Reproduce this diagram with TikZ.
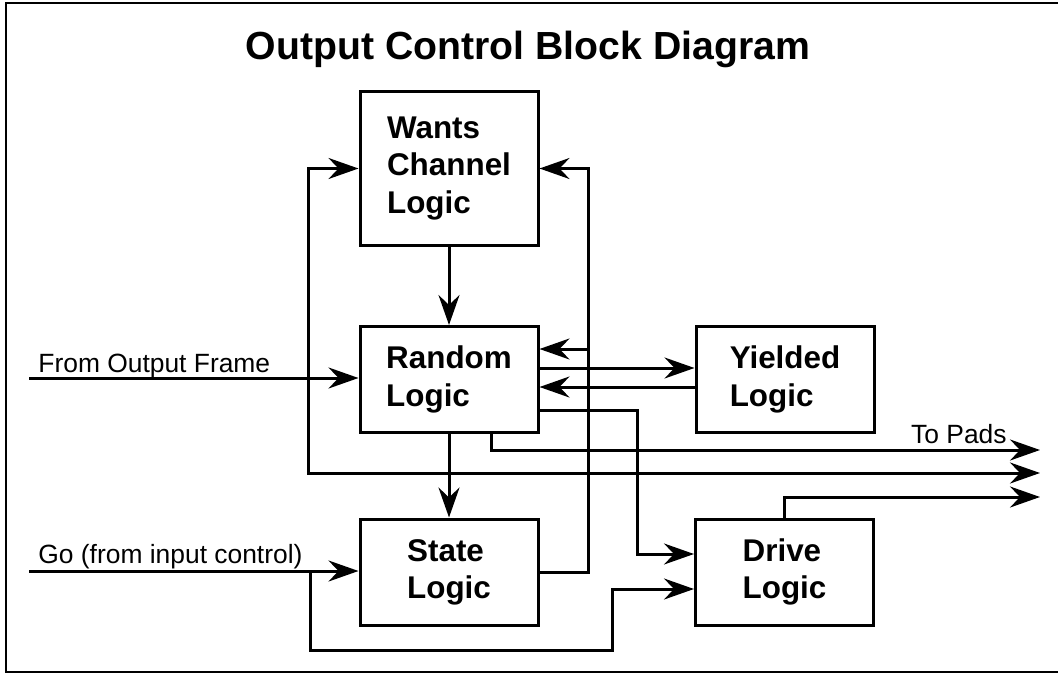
\documentclass[tikz,border=0pt]{standalone}
\usepackage{fontspec}
\setmainfont{Liberation Sans}
\usepackage{tikz}
\usetikzlibrary{arrows.meta,calc}

\begin{document}
\begin{tikzpicture}[
    x=0.5pt, y=-0.5pt,
    block/.style={rectangle, draw, line width=1.5pt, minimum width=89pt, minimum height=53pt,
        align=left, font=\fontsize{15.7}{18.6}\selectfont\bfseries},
    label/.style={font=\fontsize{13.2}{15}\selectfont, inner sep=0pt},
    arrow/.style={->, line width=1.5pt, >={Stealth[length=15pt,width=10.5pt,inset=5pt]}},
    dblarrow/.style={arrow, <->}
]
    \useasboundingbox (0,0) rectangle (1058,674);
    \draw[line width=1.3pt] (6,3) rectangle (1064,672);

    % Title
    \node[font=\fontsize{19.6}{22}\selectfont\bfseries, anchor=base] (title) at (528,60) {Output Control Block Diagram};

    % Blocks
    \node[block, minimum height=77pt] (wants) at (449,168.5) {Wants\\Channel\\Logic};
    \node[block] (random) at (449,379.5) {Random\\Logic};
    \node[block] (yielded) at (785,379.5) {Yielded\\Logic};
    \node[block] (state) at (449,572) {State\\Logic};
    \node[block] (drive) at (784.5,572) {Drive\\Logic};

    % Inputs and outputs
    \coordinate (frameIn) at (29,378);
    \coordinate (goIn) at (29,571);
    \coordinate (goTap) at (310,571);
    \coordinate (pad1) at (1040,450);
    \coordinate (pad2) at (1040,473);
    \coordinate (pad3) at (1040,497);
    \coordinate (tapR) at ($(random.east)+(49,-30.5)$);

    \node[label, anchor=base west] (frameText) at (38,372) {From Output Frame};
    \node[label, anchor=base west] (goText) at (38,563) {Go (from input control)};
    \node[label, anchor=base east] (padText) at (1007,443) {To Pads};

    % Arrows
    \draw[arrow] (wants.south) -- (random.north);
    \draw[arrow] (random.south) -- (state.north);
    \draw[arrow] (frameIn) -- (frameIn -| random.west);
    \draw[arrow] (goIn) -- (goIn -| state.west);
    \draw[dblarrow] (wants.west) -- ++(-50,0) |- (pad2);
    \draw[arrow] (state.east) -- ++(49,0) |- (wants.east);
    \draw[arrow] (tapR) -- (tapR -| random.east);
    \draw[arrow] ($(random.east)+(0,-11.5)$) -- ($(yielded.west)+(0,-11.5)$);
    \draw[arrow] ($(yielded.west)+(0,7.5)$) -- ($(random.east)+(0,7.5)$);
    \draw[arrow] ($(random.east)+(0,30.5)$) -- ++(98,0) |- ($(drive.west)+(0,-18)$);
    \draw[arrow] ($(random.south)+(42,0)$) |- (pad1);
    \draw[arrow] (drive.north) |- (pad3);
    \draw[arrow] (goTap) -- ++(0,79) -- ++(302,0) |- ($(drive.west)+(0,17)$);
\end{tikzpicture}
\end{document}
